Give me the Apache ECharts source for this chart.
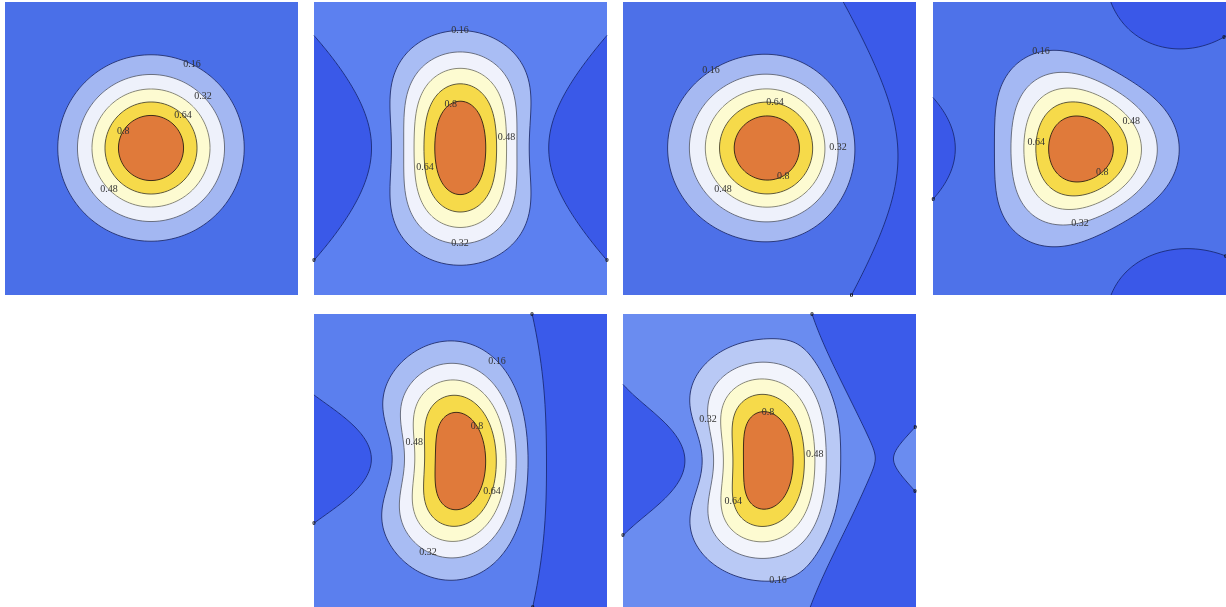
<!DOCTYPE html>
<html><head><meta charset="utf-8">
<title>Contour panels</title>
<script src="https://cdn.jsdelivr.net/npm/echarts@6/dist/echarts.min.js"></script>
<style>html,body{margin:0;padding:0;background:#fff}#chart{width:1226px;height:607px}</style>
</head><body><div id="chart"></div>
<script>
// Contour levels shared by every panel, and the text written on each contour.
const LEVELS = [0, 0.16, 0.32, 0.48, 0.64, 0.8];
const LEVEL_LABELS = ['0', '0.16', '0.32', '0.48', '0.64', '0.8'];

// Each surface is a sum of elliptical Gaussian terms, one row per term:
// [amplitude, centre x, centre y, spread x, spread y], panel units 0..293 with y pointing down.
const SURFACE_1 = [[1.000, 146.0, 146.0, 48.7, 48.7]];
const SURFACE_2 = [[2.513, 144.4, 145.9, 48.9, 53.0], [-0.434, 109.0, 145.9, 48.2, 48.0], [-1.218, 154.7, 145.9, 56.2, 45.0]];
const SURFACE_3 = [[1.086, 152.2, 145.9, 55.0, 49.5], [-0.246, 210.5, 144.4, 45.5, 53.8]];
const SURFACE_4 = [[2.536, 142.5, 147.8, 52.8, 53.8], [-1.103, 122.0, 147.2, 52.7, 46.3], [-0.464, 167.5, 101.6, 46.6, 46.7], [-0.497, 164.8, 193.5, 47.7, 46.5]];
const SURFACE_5 = [[2.139, 145.6, 146.5, 48.1, 60.4], [-0.407, 103.6, 145.6, 45.8, 33.6], [-0.926, 162.1, 146.4, 55.2, 62.7]];
const SURFACE_6 = [[2.516, 141.0, 146.1, 50.0, 55.9], [-0.547, 100.5, 146.7, 44.7, 35.8], [-1.245, 157.9, 145.6, 59.8, 53.8],
                   [-2.501, 257.8, -54.7, 30.0, 68.6], [-1.952, 257.3, 342.2, 30.0, 68.6], [0.228, 244.2, 68.7, 46.0, 260.0]];

// Band colours, from the band below 0 up to the band above 0.8.
const FILL_1 = ['#3a59e8', '#4a6fe8', '#a3b7f2', '#eef1fb', '#fdfbd1', '#f6da4a', '#e07a3a'];
const FILL_2 = ['#3a59e8', '#5c80f0', '#a9bdf4', '#f0f2fc', '#fdfbd1', '#f6da4a', '#e07a3a'];
const FILL_3 = ['#3b5ae9', '#4d70e8', '#a6b9f2', '#eef1fb', '#fdfbd1', '#f6da4a', '#e07a3a'];
const FILL_4 = ['#3a58e8', '#4e72e9', '#a4b8f3', '#eef1fb', '#fdfbd1', '#f6da4a', '#e07a3a'];
const FILL_5 = ['#3a5aea', '#5b7fee', '#a8bcf3', '#f0f2fc', '#fdfbd1', '#f6da4a', '#e07a3a'];
const FILL_6 = ['#3b5bea', '#6a8cf0', '#b9c9f5', '#f2f4fc', '#fdfbd1', '#f6da4a', '#e07a3a'];

// Contour label anchors: [level index, approximate x, approximate y]; each label snaps onto its contour.
const LABELS_1 = [[5, 118.3, 129], [4, 177.7, 114], [3, 104, 188], [2, 197.7, 94.7], [1, 186.7, 62.3]];
const LABELS_2 = [[1, 146, 30.3], [5, 137, 102.3], [3, 192, 135.3], [4, 111, 164.7], [2, 146, 242.3], [0, 0, 260], [0, 293, 260]];
const LABELS_3 = [[1, 86.3, 66.3], [4, 152, 101.3], [2, 213.7, 144.7], [5, 161, 174.7], [3, 98.7, 188], [0, 224, 293]];
const LABELS_4 = [[1, 108.3, 49.7], [3, 198.3, 118.7], [4, 101.7, 139.7], [5, 168.3, 168.7], [2, 146.7, 219.7], [0, 0, 197], [0, 293, 38], [0, 293, 253]];
const LABELS_5 = [[1, 179.3, 50.7], [5, 162, 112.3], [3, 100, 128], [4, 176, 176.7], [2, 113.3, 240], [0, 0, 210], [0, 219, 0], [0, 219, 293]];
const LABELS_6 = [[2, 87, 104.7], [5, 145.3, 99], [3, 192, 139.7], [4, 111, 187.3], [1, 154.3, 258.3], [0, 0, 222], [0, 188, 0], [0, 293, 113], [0, 293, 177]];

const SURFACES = [SURFACE_1, SURFACE_2, SURFACE_3, SURFACE_4, SURFACE_5, SURFACE_6];
const FILLS = [FILL_1, FILL_2, FILL_3, FILL_4, FILL_5, FILL_6];
const LABELS = [LABELS_1, LABELS_2, LABELS_3, LABELS_4, LABELS_5, LABELS_6];

// Panel placement on the page and contour line colours.
const SIZE = 293;
const PANEL_POS = [[5, 2], [314, 2], [623, 2], [933, 2], [314, 314], [623, 314]];
const LINE_COLORS = ['#1b2b78', '#22306e', '#5f6474', '#7a7a6c', '#4d4832', '#2e1f14'];

function surfaceValue(terms, x, y) {
  let v = 0;
  for (const [a, cx, cy, sx, sy] of terms) {
    const dx = (x - cx) / sx, dy = (y - cy) / sy;
    v += a * Math.exp(-0.5 * (dx * dx + dy * dy));
  }
  return v;
}

// Marching squares on a regular lattice; returns chained polylines for one level.
const M = SIZE + 1;
const XS = Array.from({ length: M }, (_, i) => i * SIZE / (M - 1));
function sampleSurface(terms) {
  const V = new Float64Array(M * M);
  for (let j = 0; j < M; j++) for (let i = 0; i < M; i++) V[j * M + i] = surfaceValue(terms, XS[i], XS[j]);
  return V;
}
function traceLevel(V, L) {
  const pts = new Map(), segs = [];
  const key = (t, i, j) => {
    const k = t * M * M + j * M + i;
    if (!pts.has(k)) {
      let x, y;
      if (t === 0) { const a = V[j * M + i], b = V[j * M + i + 1]; x = XS[i] + (L - a) / (b - a) * (XS[i + 1] - XS[i]); y = XS[j]; }
      else { const a = V[j * M + i], b = V[(j + 1) * M + i]; x = XS[i]; y = XS[j] + (L - a) / (b - a) * (XS[j + 1] - XS[j]); }
      pts.set(k, [x, y]);
    }
    return k;
  };
  for (let j = 0; j < M - 1; j++) for (let i = 0; i < M - 1; i++) {
    const tl = V[j * M + i], tr = V[j * M + i + 1], br = V[(j + 1) * M + i + 1], bl = V[(j + 1) * M + i];
    const c = (tl >= L ? 8 : 0) | (tr >= L ? 4 : 0) | (br >= L ? 2 : 0) | (bl >= L ? 1 : 0);
    if (c === 0 || c === 15) continue;
    const T = () => key(0, i, j), B = () => key(0, i, j + 1), Lf = () => key(1, i, j), R = () => key(1, i + 1, j);
    const mid = (tl + tr + br + bl) / 4 >= L;
    switch (c) {
      case 1: case 14: segs.push([Lf(), B()]); break;
      case 2: case 13: segs.push([B(), R()]); break;
      case 3: case 12: segs.push([Lf(), R()]); break;
      case 4: case 11: segs.push([T(), R()]); break;
      case 6: case 9: segs.push([T(), B()]); break;
      case 7: case 8: segs.push([Lf(), T()]); break;
      case 5: if (mid) { segs.push([Lf(), T()]); segs.push([B(), R()]); } else { segs.push([T(), R()]); segs.push([Lf(), B()]); } break;
      case 10: if (mid) { segs.push([T(), R()]); segs.push([Lf(), B()]); } else { segs.push([Lf(), T()]); segs.push([B(), R()]); } break;
    }
  }
  const adj = new Map();
  segs.forEach((s, n) => { for (const k of s) { if (!adj.has(k)) adj.set(k, []); adj.get(k).push(n); } });
  const used = new Uint8Array(segs.length), out = [];
  const walk = (k0, n0) => {
    const ks = [k0]; let cur = k0, n = n0;
    while (n !== undefined && !used[n]) {
      used[n] = 1; const s = segs[n]; const nx = s[0] === cur ? s[1] : s[0];
      ks.push(nx); cur = nx; n = adj.get(cur).find(q => !used[q]);
    }
    return ks.map(k => pts.get(k));
  };
  for (const [k, list] of adj) if (list.length === 1 && !used[list[0]]) out.push({ pts: walk(k, list[0]), closed: false });
  for (let n = 0; n < segs.length; n++) if (!used[n]) out.push({ pts: walk(segs[n][0], n), closed: true });
  return out;
}

// Turn every polyline so the side at or above the level lies on its left.
function orient(line, terms, L) {
  const p = line.pts;
  let k = Math.floor((p.length - 1) / 2);
  for (let tries = 0; tries < p.length - 1; tries++) {
    const a = p[k], b = p[k + 1], dx = b[0] - a[0], dy = b[1] - a[1], len = Math.hypot(dx, dy);
    if (len > 0.2) {
      const v = surfaceValue(terms, (a[0] + b[0]) / 2 + 0.5 * dy / len, (a[1] + b[1]) / 2 - 0.5 * dx / len);
      if (v < L) p.reverse();
      return;
    }
    k = (k + 1) % (p.length - 1);
  }
}

// Region at or above a level, as rings closed along the panel border.
function borderParam(q) {
  const e = 1e-7;
  if (q[1] <= e) return SIZE - q[0];
  if (q[0] <= e) return SIZE + q[1];
  if (q[1] >= SIZE - e) return 2 * SIZE + q[0];
  return 3 * SIZE + (SIZE - q[1]);
}
const CORNERS = [[SIZE, [0, 0]], [2 * SIZE, [0, SIZE]], [3 * SIZE, [SIZE, SIZE]], [4 * SIZE, [SIZE, 0]]];
const FULL = [[SIZE, 0], [0, 0], [0, SIZE], [SIZE, SIZE]];
function regionRings(lines, terms, L) {
  const P = 4 * SIZE;
  const open = lines.filter(l => !l.closed);
  const rings = lines.filter(l => l.closed).map(l => l.pts);
  if (!open.length) {
    if (surfaceValue(terms, 0, 0) >= L) rings.push(FULL);
    return rings;
  }
  const starts = open.map(l => borderParam(l.pts[0]));
  const ends = open.map(l => borderParam(l.pts[l.pts.length - 1]));
  const used = new Array(open.length).fill(false);
  for (let i0 = 0; i0 < open.length; i0++) {
    if (used[i0]) continue;
    const ring = []; let i = i0, guard = 0;
    while (!used[i] && guard++ < 500) {
      used[i] = true;
      ring.push(...open[i].pts);
      const te = ends[i];
      let next = i0, bd = Infinity;
      for (let j = 0; j < open.length; j++) {
        const d = ((starts[j] - te) % P + P) % P;
        if (d < bd) { bd = d; next = j; }
      }
      CORNERS.map(([t, q]) => [((t - te) % P + P) % P, q])
        .filter(([d]) => d > 1e-9 && d < bd)
        .sort((a, b) => a[0] - b[0])
        .forEach(([, q]) => ring.push(q));
      i = next;
    }
    rings.push(ring);
  }
  return rings;
}

const grid = [], xAxis = [], yAxis = [], series = [];
SURFACES.forEach((terms, g) => {
  const [left, top] = PANEL_POS[g];
  grid.push({ left, top, width: SIZE, height: SIZE });
  xAxis.push({ type: 'value', gridIndex: g, min: 0, max: SIZE, show: false });
  yAxis.push({ type: 'value', gridIndex: g, min: 0, max: SIZE, inverse: true, show: false });

  const V = sampleSurface(terms);
  const traced = LEVELS.map(L => traceLevel(V, L));
  traced.forEach((lines, li) => lines.forEach(l => orient(l, terms, LEVELS[li])));
  const bands = [[FULL]].concat(traced.map((lines, li) => regionRings(lines, terms, LEVELS[li])));
  const colours = FILLS[g];

  // filled bands, painted from the lowest band up
  series.push({
    type: 'custom', coordinateSystem: 'cartesian2d', xAxisIndex: g, yAxisIndex: g,
    silent: true, animation: false, clip: true,
    data: colours.map((c, i) => [i, 0]),
    renderItem: (params, api) => {
      const rings = bands[params.dataIndex];
      if (!rings.length) return null;
      let d = '';
      for (const ring of rings) {
        ring.forEach((q, k) => { const pt = api.coord(q); d += (k ? 'L' : 'M') + pt[0].toFixed(2) + ' ' + pt[1].toFixed(2); });
        d += 'Z';
      }
      return { type: 'path', shape: { pathData: d }, style: { fill: colours[params.dataIndex], stroke: null } };
    }
  });

  // contour lines
  const all = [];
  traced.forEach((lines, li) => lines.forEach(l => all.push({ li, coords: l.pts })));
  series.push({
    type: 'lines', coordinateSystem: 'cartesian2d', xAxisIndex: g, yAxisIndex: g,
    polyline: true, silent: true, animation: false,
    lineStyle: { width: 0.9, opacity: 1 },
    data: all.map(c => ({ coords: c.coords, lineStyle: { color: LINE_COLORS[c.li] } }))
  });

  // contour labels, written level on their line
  const labelData = LABELS[g].map(([li, lx, ly]) => {
    let best = null, bd = Infinity;
    for (const c of all) {
      if (c.li !== li) continue;
      c.coords.forEach(q => { const d = (q[0] - lx) ** 2 + (q[1] - ly) ** 2; if (d < bd) { bd = d; best = q; } });
    }
    return best ? [best[0], best[1], li] : null;
  }).filter(Boolean);
  series.push({
    type: 'custom', coordinateSystem: 'cartesian2d', xAxisIndex: g, yAxisIndex: g,
    silent: true, animation: false, clip: false, data: labelData,
    renderItem: (params, api) => {
      const pt = api.coord([api.value(0), api.value(1)]);
      const zero = api.value(2) === 0;
      return {
        type: 'text', x: pt[0], y: pt[1],
        style: {
          text: LEVEL_LABELS[api.value(2)],
          font: zero ? 'bold 7px "Liberation Serif"' : '10px "Liberation Serif"',
          fill: zero ? '#111' : '#333', align: 'center', verticalAlign: 'middle'
        }
      };
    }
  });
});

const chart = echarts.init(document.getElementById('chart'), null, { renderer: 'canvas' });
chart.setOption({ animation: false, grid, xAxis, yAxis, series });
</script></body></html>
